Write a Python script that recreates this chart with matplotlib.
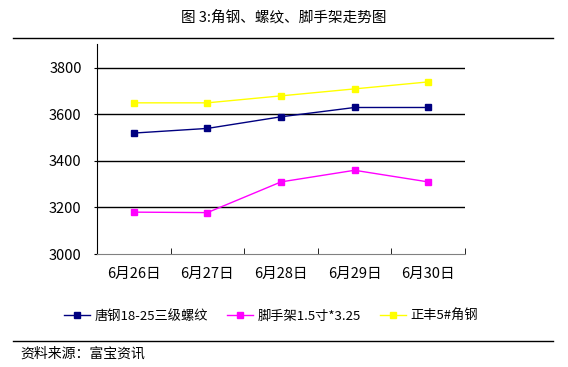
import numpy as np
import matplotlib.pyplot as plt
from matplotlib.lines import Line2D

plt.rcParams['font.family'] = ['Noto Sans CJK SC', 'DejaVu Sans']

dates = ['6月26日', '6月27日', '6月28日', '6月29日', '6月30日']
tanggang = [3520, 3540, 3590, 3630, 3630]
jiaoshou = [3180, 3178, 3310, 3360, 3310]
zhengfeng = [3650, 3650, 3680, 3710, 3740]
names = ['唐钢18-25三级螺纹', '脚手架1.5寸*3.25', '正丰5#角钢']
colors = ['#000080', '#FF00FF', '#FFFF00']

f = plt.figure(figsize=(5.68, 3.67), dpi=100)
W, H = 568, 367
p = f.add_axes([97 / W, 1 - 254 / H, (465 - 97) / W, (254 - 44) / H])

x = np.arange(len(dates))
for ys, c in zip([tanggang, jiaoshou, zhengfeng], colors):
    p.plot(x, ys, color=c, lw=1, marker='s', ms=4.5, mec=c, mfc=c)

p.set_xlim(-0.5, 4.5)
p.set_ylim(3000, 3903)
p.set_yticks([3000, 3200, 3400, 3600, 3800])
for v in [3200, 3400, 3600, 3800]:
    p.axhline(v, color='black', lw=1, zorder=0)
p.set_xticks(x)
p.set_xticklabels(dates, fontsize=10.5)
p.set_xticks(np.arange(-0.5, 5, 1), minor=True)
p.tick_params(axis='x', which='major', length=0, pad=9)
p.tick_params(axis='x', which='minor', length=4, direction='in', color='black')
p.tick_params(axis='y', length=2, direction='out', labelsize=10.5, pad=9)
p.spines['top'].set_visible(False)
p.spines['right'].set_visible(False)
p.spines['left'].set_color('black')
p.spines['bottom'].set_color('#808080')

handles = [Line2D([], [], color=c, lw=1, marker='s', ms=4.5) for c in colors]
f.legend(handles, names, loc='center', bbox_to_anchor=(271 / W, 1 - 316 / H),
         ncol=3, frameon=False, fontsize=9.5, handlelength=2.0,
         columnspacing=1.4, handletextpad=0.35)

f.text(0.5, 1 - 17 / H, '图 3:角钢、螺纹、脚手架走势图', ha='center', va='center', fontsize=10.5)
f.add_artist(Line2D([13 / W, 553 / W], [1 - 38 / H, 1 - 38 / H], color='black', lw=1))
f.add_artist(Line2D([13 / W, 553 / W], [1 - 341 / H, 1 - 341 / H], color='black', lw=1))
f.text(20 / W, 1 - 354 / H, '资料来源：富宝资讯', ha='left', va='center', fontsize=10)

f.savefig('out.png', dpi=100)
